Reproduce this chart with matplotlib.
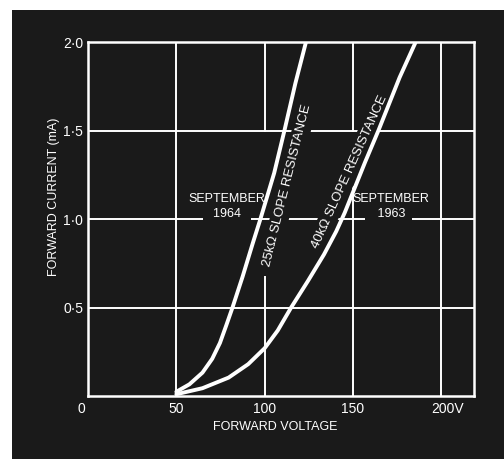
import matplotlib
matplotlib.use("Agg")
import matplotlib.pyplot as plt
from matplotlib.patches import Rectangle
import matplotlib.transforms as mtransforms

# ---- data ----
v_1964 = [50, 57.4, 64.8, 70.3, 74.7, 78.3, 81.8, 87.5, 93.3, 97.6, 105.4, 111.2, 117.4, 123.4]
i_1964 = [0.024, 0.066, 0.132, 0.21, 0.30, 0.40, 0.50, 0.674, 0.864, 1.0, 1.26, 1.5, 1.767, 2.0]

v_1963 = [50, 64.8, 79.6, 90.7, 100, 107.4, 115, 124.5, 133.6, 140.5, 145.3, 156.8, 164.4, 176.4, 185.5]
i_1963 = [0.01, 0.044, 0.104, 0.18, 0.27, 0.37, 0.50, 0.65, 0.80, 0.93, 1.035, 1.32, 1.5, 1.80, 2.0]

x_ticks = [0, 50, 100, 150, 200]
x_tick_labels = ["0", "50", "100", "150", "200V"]
y_ticks = [0.5, 1.0, 1.5, 2.0]
y_tick_labels = ["0·5", "1·0", "1·5", "2·0"]

BG = "#1a1a1a"
FG = "white"
plt.rcParams["font.family"] = ["Liberation Sans", "DejaVu Sans"]

W, H = 504, 459
fig = plt.figure(figsize=(W / 100, H / 100), dpi=100)
fig.patch.set_facecolor("white")
fig.patches.append(Rectangle((12 / W, 0), 1 - 12 / W, 1 - 10 / H,
                             transform=fig.transFigure, facecolor=BG,
                             edgecolor="none", zorder=-10))

left, right, top, bottom = 88, 474, 42, 396
ax = fig.add_axes([left / W, 1 - bottom / H, (right - left) / W, (bottom - top) / H])
ax.set_zorder(5)
ax.set_facecolor(BG)
ax.set_xlim(0, 218.5)
ax.set_ylim(0, 2.0)

for s in ax.spines.values():
    s.set_color(FG)
    s.set_linewidth(1.8)

# grid (with the gaps of the original drawing)
gl = dict(color=FG, lw=1.4, zorder=1)
ax.axvline(50, **gl)
ax.axvline(100, ymin=0, ymax=0.67 / 2.0, **gl)
ax.axvline(100, ymin=1.5 / 2.0, ymax=1, **gl)
ax.axvline(150, ymin=0, ymax=1.18 / 2.0, **gl)
ax.axvline(150, ymin=1.5 / 2.0, ymax=1, **gl)
ax.axvline(200, **gl)
for yv in y_ticks[:-1]:
    ax.axhline(yv, **gl)

# curves
ax.plot(v_1964, i_1964, color=FG, lw=2.8, zorder=5, solid_capstyle="round", solid_joinstyle="round")
ax.plot(v_1963, i_1963, color=FG, lw=2.8, zorder=5, solid_capstyle="round", solid_joinstyle="round")

# ticks
ax.set_xticks(x_ticks)
ax.set_xticklabels(x_tick_labels)
ax.set_yticks(y_ticks)
ax.set_yticklabels(y_tick_labels)
ax.tick_params(length=0, colors=FG, labelsize=10)
ax.tick_params(axis="x", pad=4)
ax.tick_params(axis="y", pad=3.5)
labels = ax.get_xticklabels()
dpi_t = fig.dpi_scale_trans
labels[0].set_transform(labels[0].get_transform() + mtransforms.ScaledTranslation(-7 / 100, 0, dpi_t))
labels[-1].set_transform(labels[-1].get_transform() + mtransforms.ScaledTranslation(6 / 100, 0, dpi_t))

ax.set_xlabel("FORWARD VOLTAGE", color=FG, fontsize=9)
ax.xaxis.set_label_coords((275 - left) / (right - left), (bottom - 421) / (bottom - top))
ax.set_ylabel("FORWARD CURRENT (mA)", color=FG, fontsize=9)
ax.yaxis.set_label_coords((60 - left) / (right - left), (bottom - 197) / (bottom - top))

fs = 9
ax.text(78.8, 1.115, "SEPTEMBER", color=FG, fontsize=fs, ha="center", va="center", zorder=3)
ax.text(78.8, 1.03, "  1964  ", color=FG, fontsize=fs, ha="center", va="center", zorder=3,
        bbox=dict(facecolor=BG, edgecolor="none", pad=2))
ax.text(171.4, 1.115, "SEPTEMBER", color=FG, fontsize=fs, ha="center", va="center", zorder=3)
ax.text(170.0, 1.03, "   1963 ", color=FG, fontsize=fs, ha="center", va="center", zorder=3,
        bbox=dict(facecolor=BG, edgecolor="none", pad=2))

bb = dict(facecolor=BG, edgecolor="none", pad=2.5)
ax.text(113, 1.19, "25k\u03a9 SLOPE RESISTANCE", color=FG, fontsize=9.5, ha="center", va="center",
        rotation=76, rotation_mode="anchor", bbox=bb, zorder=3)
ax.text(147.9, 1.267, "40k\u03a9 SLOPE RESISTANCE", color=FG, fontsize=9.5, ha="center", va="center",
        rotation=65.6, rotation_mode="anchor", bbox=bb, zorder=3)

fig.savefig("out.png", dpi=100, facecolor=fig.get_facecolor())
